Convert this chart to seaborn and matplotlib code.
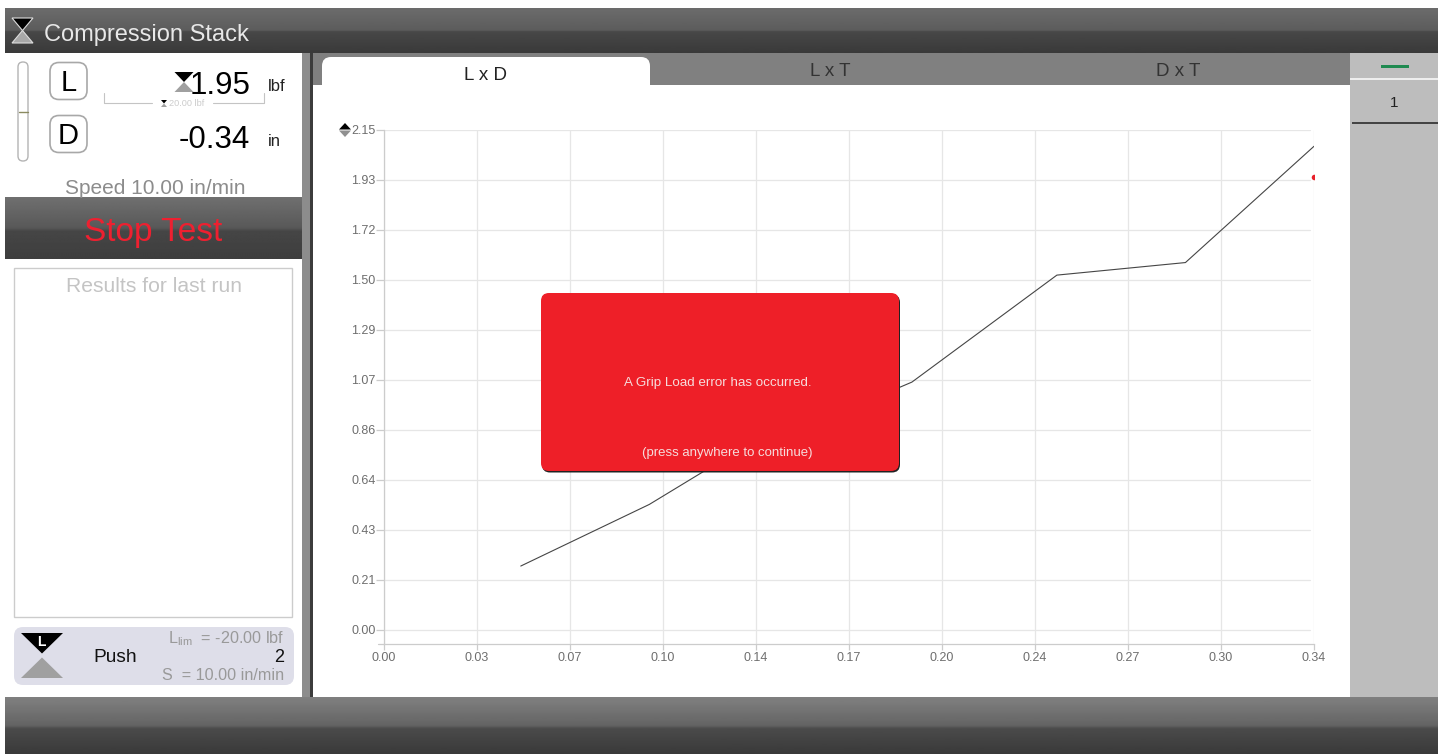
import matplotlib
matplotlib.use('Agg')
import matplotlib.pyplot as plt
import numpy as np
import pandas as pd
import seaborn as sns
from matplotlib.patches import FancyBboxPatch, Polygon, Rectangle

W, H = 1443, 754

# values
displacement = [0.050, 0.097, 0.118, 0.193, 0.246, 0.293, 0.340]
load = [0.275, 0.540, 0.690, 1.066, 1.526, 1.580, 2.080]
current_d = [0.34]
current_l = [1.95]
x_labels = ['0.00', '0.03', '0.07', '0.10', '0.14', '0.17', '0.20', '0.24', '0.27', '0.30', '0.34']
y_labels = ['0.00', '0.21', '0.43', '0.64', '0.86', '1.07', '1.29', '1.50', '1.72', '1.93', '2.15']
tabs = ['L x D', 'L x T', 'D x T']

sns.set_theme(style='white')
plt.rcParams['font.family'] = ['Liberation Sans', 'DejaVu Sans']


def px_axes(fig, zorder):
    a = fig.add_axes([0, 0, 1, 1], zorder=zorder)
    a.set_xlim(0, W)
    a.set_ylim(H, 0)
    a.axis('off')
    a.patch.set_alpha(0)
    return a


def grad(a, x0, x1, y0, y1, stops):
    pos, vals = zip(*stops)
    g = np.interp(np.linspace(0, 1, 64), pos, vals).reshape(-1, 1)
    a.imshow(g, cmap='gray', vmin=0, vmax=255, extent=(x0, x1, y1, y0), aspect='auto', interpolation='bilinear')
    a.set_xlim(0, W)
    a.set_ylim(H, 0)


def hourglass(a, cx, top, bot, half, mid_gap=0):
    mid = (top + bot) / 2
    a.add_patch(Polygon([(cx - half, top), (cx + half, top), (cx, mid - mid_gap)], fc='black', ec='none'))
    a.add_patch(Polygon([(cx - half, bot), (cx + half, bot), (cx, mid + mid_gap)], fc='#a0a0a0', ec='none'))


fig = plt.figure(figsize=(W / 100, H / 100), dpi=100, facecolor='white')
bg = px_axes(fig, 0)

# window chrome
grad(bg, 5, 1438, 8, 53, [(0, 108), (0.5, 92), (0.52, 72), (1, 58)])
grad(bg, 5, 1438, 697, 754, [(0, 128), (0.5, 100), (0.55, 75), (1, 58)])
grad(bg, 5, 302, 197, 259, [(0, 112), (0.5, 88), (0.55, 70), (1, 62)])
bg.add_patch(Rectangle((302, 53), 8, 644, fc='#8c8c8c', ec='none'))
bg.add_patch(Rectangle((310, 53), 3, 644, fc='#3c3c3c', ec='none'))
bg.add_patch(Rectangle((313, 53), 1037, 32, fc='#808080', ec='none'))
bg.add_patch(Rectangle((1350, 53), 88, 644, fc='#bdbdbd', ec='none'))
grad(bg, 1350, 1438, 53, 78, [(0, 240), (1, 165)])
bg.add_patch(Rectangle((1350, 78), 88, 1.5, fc='#eeeeee', ec='none'))
bg.add_patch(Rectangle((1352, 122), 86, 1.5, fc='#444444', ec='none'))
bg.add_patch(Rectangle((1381, 64.5), 28, 3, fc='#1f8a50', ec='none'))
bg.text(1394, 103, '1', fontsize=11, color='#222222', ha='center', va='center')

# tabs
bg.add_patch(Rectangle((322, 66), 328, 19, fc='white', ec='none'))
bg.add_patch(FancyBboxPatch((322, 57), 328, 28, boxstyle='round,pad=0,rounding_size=9', fc='white', ec='none'))
for name, tx, ty, col in zip(tabs, [485, 830, 1178], [76, 71, 71], ['#222222', '#333333', '#333333']):
    bg.text(tx, ty, name, fontsize=13.5, color=col, ha='center', va='center')

# header
bg.add_patch(Polygon([(12, 18), (33, 18), (22.5, 30.5)], fc='black', ec='#dddddd', lw=0.8))
bg.add_patch(Polygon([(12, 43), (33, 43), (22.5, 30.5)], fc='#a8a8a8', ec='#dddddd', lw=0.8))
bg.text(44, 34.5, 'Compression Stack', fontsize=17, color='#e8e8e8', ha='left', va='center')

# readouts
bg.add_patch(FancyBboxPatch((18, 62), 10, 99, boxstyle='round,pad=0,rounding_size=5', fc='white', ec='#b4b4b4', lw=1))
bg.plot([19, 28], [112, 112], color='#8a8a60', lw=1)
for letter, cy in zip(['L', 'D'], [81, 134]):
    bg.add_patch(FancyBboxPatch((50, cy - 18.5), 37, 37, boxstyle='round,pad=0,rounding_size=9',
                                fc='white', ec='#a8a8a8', lw=1.2))
    bg.text(68.5, cy + 2, letter, fontsize=21, color='black', ha='center', va='center')
hourglass(bg, 184, 72, 92, 9.5)
bg.text(250, 86, '1.95', fontsize=22.5, color='black', ha='right', va='center')
bg.text(268, 86.5, 'lbf', fontsize=12, color='#222222', ha='left', va='center')
bg.text(250, 140, '-0.34', fontsize=22.5, color='black', ha='right', va='center')
bg.text(268, 141, 'in', fontsize=12, color='#222222', ha='left', va='center')
bg.plot([104, 104, 152], [93, 103, 103], color='#c4c4c4', lw=0.8)
bg.plot([213, 264, 264], [103, 103, 93], color='#c4c4c4', lw=0.8)
hourglass(bg, 164, 100, 107, 3)
bg.text(169, 104, '20.00 lbf', fontsize=6.6, color='#cccccc', ha='left', va='center')
bg.text(155, 189, 'Speed 10.00 in/min', fontsize=15, color='#8c8c8c', ha='center', va='center')
bg.text(153, 232, 'Stop Test', fontsize=24, color='#ee2030', ha='center', va='center')

# results box
bg.add_patch(Rectangle((14, 268), 278, 349, fc='white', ec='#cccccc', lw=1))
bg.text(153.5, 286, 'Results for last run', fontsize=15.2, color='#c4c4c4', ha='center', va='center')

# step panel
bg.add_patch(FancyBboxPatch((14, 627), 280, 58, boxstyle='round,pad=0,rounding_size=9', fc='#dedee9', ec='none'))
hourglass(bg, 42, 633, 678, 21, mid_gap=2)
bg.text(41, 642, 'L', fontsize=10, fontweight='bold', color='white', ha='center', va='center')
bg.text(115, 658, 'Push', fontsize=13.8, color='#111111', ha='center', va='center')
bg.text(284, 639, '$\\mathregular{L_{lim}}$  = -20.00 lbf', fontsize=11.6, color='#999999', ha='right', va='center')
bg.text(284, 658, '2', fontsize=13, color='#111111', ha='right', va='center')
bg.text(284, 676, 'S  = 10.00 in/min', fontsize=11.6, color='#999999', ha='right', va='center')

# chart
df = pd.DataFrame({'displacement': displacement, 'load': load})
x_step = 0.34 / (len(x_labels) - 1)
y_step = 2.15 / (len(y_labels) - 1)
ax = fig.add_axes([384 / W, 1 - 644 / H, 930 / W, 514 / H], zorder=1)
ax.patch.set_alpha(0)
sns.lineplot(data=df, x='displacement', y='load', color='#454545', lw=0.8, sort=False, ax=ax)
sns.scatterplot(x=current_d, y=current_l, color='#e8202a', s=16, linewidth=0, clip_on=True, ax=ax)
ax.set_xlim(0, 0.34)
ax.set_ylim(-0.0602, 2.15)
ax.set_xticks([x_step * i for i in range(len(x_labels))], x_labels)
ax.set_yticks([y_step * i for i in range(len(y_labels))], y_labels)
ax.set_xlabel('')
ax.set_ylabel('')
ax.grid(True, color='#e6e6e6', lw=0.9)
ax.set_axisbelow(True)
ax.tick_params(axis='x', length=4, width=0.9, color='#cccccc', labelcolor='#6e6e6e', labelsize=9, pad=2, bottom=True)
ax.tick_params(axis='y', length=6, width=0.9, color='#cccccc', labelcolor='#6e6e6e', labelsize=9, pad=0, left=True)
for gl in ax.get_ygridlines():
    gl.set_xdata([0, 0.996])
for side in ['top', 'right']:
    ax.spines[side].set_visible(False)
for side in ['left', 'bottom']:
    ax.spines[side].set_color('#cccccc')
    ax.spines[side].set_linewidth(0.9)
bg.plot([378, 384], [644, 644], color='#cccccc', lw=0.9)

# error dialog on top of the chart
fg = px_axes(fig, 2)
fg.add_patch(Polygon([(339, 129.5), (345, 123), (351, 129.5)], fc='black', ec='none'))
fg.add_patch(Polygon([(339, 130.5), (345, 137), (351, 130.5)], fc='#909090', ec='none'))
fg.add_patch(FancyBboxPatch((542, 294.5), 358, 178, boxstyle='round,pad=0,rounding_size=8', fc='#222222', ec='none'))
fg.add_patch(FancyBboxPatch((541, 293), 358, 178, boxstyle='round,pad=0,rounding_size=8', fc='#ee1f28', ec='none'))
fg.text(718, 383, 'A Grip Load error has occurred.', fontsize=9.6, color='#f6dcdc', ha='center', va='center')
fg.text(727.5, 453, '(press anywhere to continue)', fontsize=9.5, color='#f6dcdc', ha='center', va='center')

fig.savefig('out.png', dpi=100)
